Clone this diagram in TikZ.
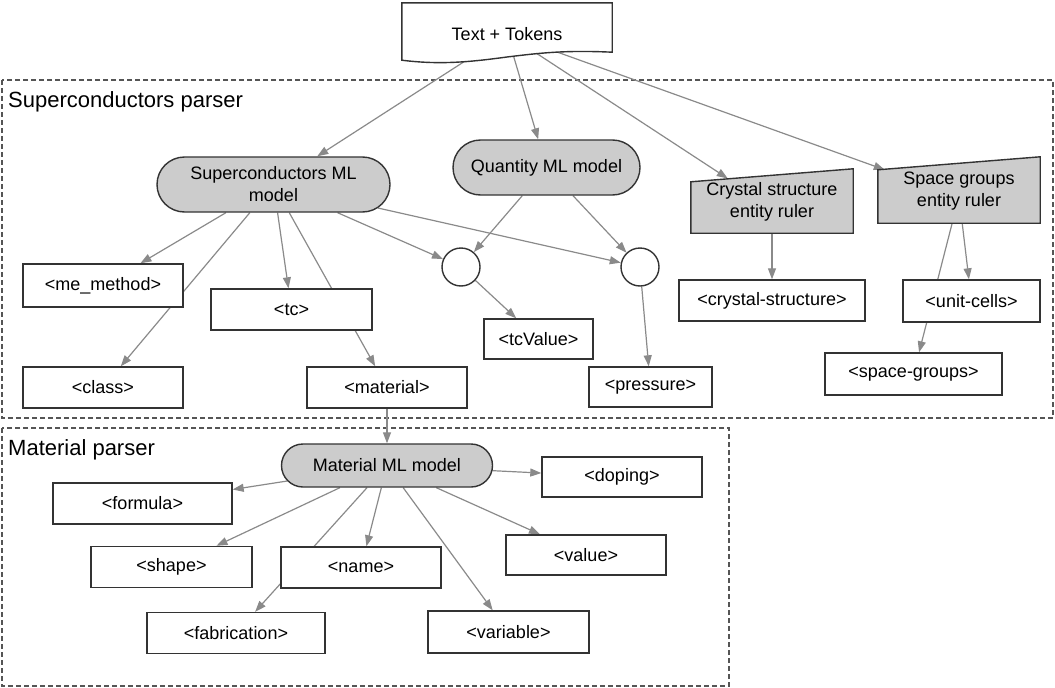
\documentclass[tikz,border=0pt]{standalone}
\usepackage{fontspec}
\setmainfont{Liberation Sans}
\usetikzlibrary{arrows.meta,backgrounds,calc,shapes.misc}
\definecolor{edgegray}{HTML}{8A8A8A}
\definecolor{boxline}{HTML}{333333}
\definecolor{modelfill}{HTML}{CCCCCC}
\definecolor{dashline}{HTML}{555555}
\begin{document}
\begin{tikzpicture}[x=1pt,y=-1pt,
  every node/.style={font=\fontsize{18}{22}\selectfont, inner sep=0pt, align=center},
  tagbox/.style={draw=boxline, line width=1.4pt, fill=white, rectangle},
  bigmodel/.style={draw=boxline, line width=1.4pt, fill=modelfill, rounded rectangle, minimum height=55pt},
  smallmodel/.style={draw=boxline, line width=1.4pt, fill=modelfill, rounded rectangle, minimum height=43pt},
  joint/.style={draw=boxline, line width=1.4pt, fill=white, circle, minimum size=38pt},
  ghost/.style={draw=none, rectangle},
  rulershape/.style={draw=boxline, line width=1.4pt, fill=modelfill},
  conn/.style={draw=edgegray, line width=1.2pt, -{Triangle[length=11pt,width=8pt]}},
  parserbox/.style={draw=dashline, line width=1.5pt, dash pattern=on 5pt off 3pt},
  parserlabel/.style={font=\fontsize{22}{26}\selectfont, anchor=base west}
]
\useasboundingbox (0,0) rectangle (1055,688);

% parser frames
\node[parserlabel] (lblsc) at (8,107) {Superconductors parser};
\node[parserlabel] (lblmat) at (8,455) {Material parser};

% top document
\node[ghost, minimum width=210pt, minimum height=36pt] (T) at (507,34) {};
\path[draw=boxline, line width=1.4pt, fill=white]
  ($(T.north west)+(0,-13)$) -- ($(T.north east)+(0,-13)$) -- (T.south east)
  .. controls (565,50) and (540,53) .. (507,57)
  .. controls (470,62) and (440,65) .. ($(T.south west)+(0,8)$) -- cycle;
\node (Ttext) at (T.center) {Text + Tokens};

% models
\node[bigmodel, minimum width=233pt] (SC) at (273.5,184.5) {Superconductors ML\\model};
\node[bigmodel, minimum width=187pt] (Q) at (546.5,167.5) {Quantity ML model};
\node[smallmodel, minimum width=211pt] (MM) at (387,465.5) {Material ML model};

% entity rulers
\node[ghost, minimum width=162pt, minimum height=51pt] (cry) at (772,207.5) {};
\path[rulershape] (cry.north west) -- ($(cry.north east)+(0,-13)$) -- (cry.south east) -- (cry.south west) -- cycle;
\node (crytext) at (772,202) {Crystal structure\\entity ruler};
\node[ghost, minimum width=162pt, minimum height=53pt] (sg) at (959,196.5) {};
\path[rulershape] (sg.north west) -- ($(sg.north east)+(0,-13)$) -- (sg.south east) -- (sg.south west) -- cycle;
\node (sgtext) at (959,191) {Space groups\\entity ruler};

% circles
\node[joint] (c1) at (461,267) {};
\node[joint] (c2) at (640,267) {};

% tag boxes
\node[tagbox, minimum width=160pt, minimum height=43pt] (me) at (103,285.5) {<me\_method>};
\node[tagbox, minimum width=161pt, minimum height=41pt] (tc) at (291.5,309.5) {<tc>};
\node[tagbox, minimum width=160pt, minimum height=41pt] (class) at (103,387.5) {<class>};
\node[tagbox, minimum width=160pt, minimum height=41pt] (mat) at (387,387.5) {<material>};
\node[tagbox, minimum width=109pt, minimum height=40pt] (tcv) at (538.5,339) {<tcValue>};
\node[tagbox, minimum width=123pt, minimum height=40pt] (pres) at (650.5,387) {<pressure>};
\node[tagbox, minimum width=186pt, minimum height=41pt] (cs) at (772,300.5) {<crystal-structure>};
\node[tagbox, minimum width=137pt, minimum height=42pt] (uc) at (971.5,301) {<unit-cells>};
\node[tagbox, minimum width=177pt, minimum height=42pt] (sgs) at (913.5,374) {<space-groups>};

\node[tagbox, minimum width=179pt, minimum height=41pt] (formula) at (142.5,503.5) {<formula>};
\node[tagbox, minimum width=161pt, minimum height=41pt] (shape) at (171.5,567) {<shape>};
\node[tagbox, minimum width=160pt, minimum height=41pt] (name) at (361,567.5) {<name>};
\node[tagbox, minimum width=178pt, minimum height=41pt] (fab) at (236,633) {<fabrication>};
\node[tagbox, minimum width=161pt, minimum height=42pt] (var) at (508.5,632) {<variable>};
\node[tagbox, minimum width=160pt, minimum height=40pt] (value) at (586,555) {<value>};
\node[tagbox, minimum width=160pt, minimum height=40pt] (doping) at (622,477) {<doping>};

\begin{pgfonlayer}{background}
  \draw[parserbox] (2,80) rectangle (1053,418);
  \draw[parserbox] (2,428) rectangle (729,686);

  \draw[conn] (T) -- (SC);
  \draw[conn] (T) -- (Q);
  \draw[conn, shorten >=6pt] (T) -- (cry);
  \draw[conn] (T) -- (sg);

  \draw[conn] (SC) -- (me);
  \draw[conn] (SC) -- (class);
  \draw[conn] (SC) -- (tc);
  \draw[conn] (SC) -- (mat);
  \draw[conn] (SC) -- (c1);
  \draw[conn] (SC) -- (c2);

  \draw[conn] (Q) -- (c1);
  \draw[conn] (Q) -- (c2);
  \draw[conn] (c1) -- (tcv);
  \draw[conn] (c2) -- (pres);

  \draw[conn] (cry) -- (cs);
  \draw[conn] (sg) -- (uc);
  \draw[conn] (sg) -- (sgs);

  \draw[conn] (mat) -- (MM);

  \draw[conn] (MM) -- (formula);
  \draw[conn] (MM) -- (shape);
  \draw[conn] (MM) -- (name);
  \draw[conn] (MM) -- (fab);
  \draw[conn] (MM) -- (var);
  \draw[conn] (MM) -- (value);
  \draw[conn] (MM) -- (doping);
\end{pgfonlayer}
\end{tikzpicture}
\end{document}
